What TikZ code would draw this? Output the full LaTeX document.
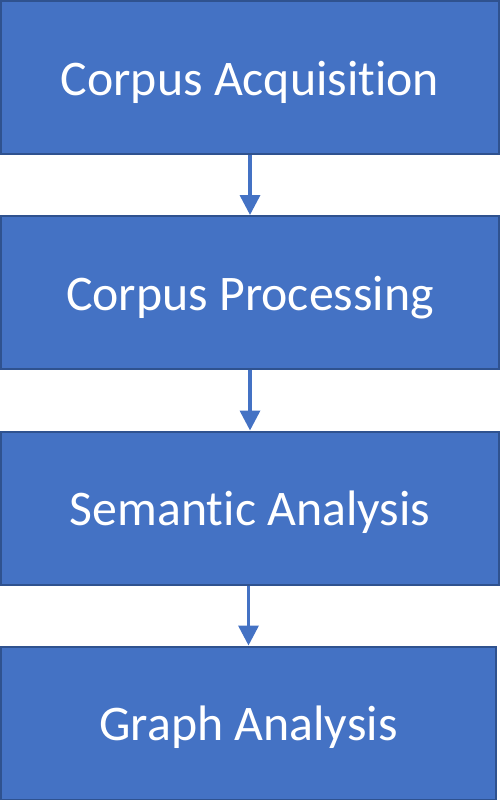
\documentclass[tikz,border=0pt]{standalone}
\usepackage{fontspec}
\setmainfont[Ligatures=NoCommon]{Carlito}
\usetikzlibrary{arrows.meta}
\definecolor{stepfill}{HTML}{4472C4}
\definecolor{stepline}{HTML}{2F528F}
\begin{document}
\begin{tikzpicture}[x=1bp,y=1bp,
    stage/.style ={rectangle, draw=stepline, fill=stepfill, line width=2bp, text=white,
                   minimum width=498bp, minimum height=153bp, inner sep=0pt,
                   text height=35bp, text depth=0bp, font=\fontsize{50}{60}\selectfont},
    flow/.style ={draw=stepfill, line width=3.5bp, -{Triangle[width=20bp,length=20bp]}}]
   \useasboundingbox (0,0) rectangle (500,-800);
   \node[stage] (acq)  at (250,-77.5) {Corpus Acquisition};
   \node[stage] (proc) at (250,-292.5) {Corpus Processing};
   \node[stage] (sem)  at (250,-508) {Semantic Analysis};
   \node[stage, minimum width=495bp] (graph) at (248.5,-723) {Graph Analysis};
   \draw[flow] (acq) to (proc);
   \draw[flow] (proc) to (sem);
   \draw[flow] (sem.south -| graph.north) to (graph);
 \end{tikzpicture}
\end{document}
